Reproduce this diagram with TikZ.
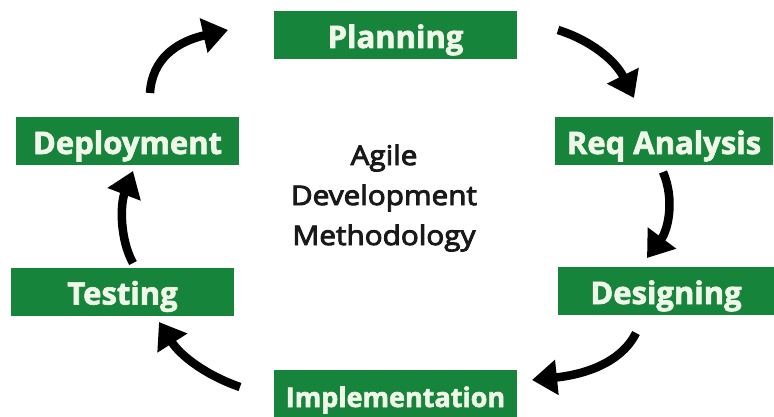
\documentclass[tikz,border=0pt]{standalone}
\usepackage{fontspec}
\setmainfont{Open Sans}
\newfontfamily\boxfont{Open Sans}[FakeBold=2.2]
\newfontfamily\midfont{Open Sans}[FakeBold=3.5,FakeStretch=1.1]
\usetikzlibrary{arrows.meta}
\definecolor{boxgreen}{RGB}{22,132,58}
\definecolor{boxtext}{RGB}{240,246,232}
\tikzset{
  stagebox/.style={fill=boxgreen, text=boxtext, inner sep=0pt, minimum height=48pt,
    text height=30pt, text depth=4pt,
    font=\boxfont\bfseries\fontsize{31}{34}\selectfont},
  cyclearrow/.style={line width=8.5pt, -{Triangle[width=34pt,length=25pt]}, black}
}
\begin{document}
\begin{tikzpicture}[x=1pt,y=-1pt]
\useasboundingbox (0,0) rectangle (774,417);
\node[stagebox, minimum width=243pt] (plan) at (395.5,35) {Planning};
\node[stagebox, minimum width=218pt] (req) at (664,141) {Req Analysis};
\node[stagebox, minimum width=216pt] (des) at (666,291) {Designing};
\node[stagebox, minimum width=243pt, font=\boxfont\bfseries\fontsize{27}{30}\selectfont] (impl) at (395.5,394) {Implementation};
\node[stagebox, minimum width=223pt] (test) at (122.5,291.5) {Testing};
\node[stagebox, minimum width=223pt] (dep) at (127.5,141) {Deployment};
\node[align=center, text=black!90, font=\midfont\fontsize{27}{40}\selectfont] (title) at (384,198) {Agile\\Development\\Methodology};
% arrow end points
\coordinate (a1s) at (150,93);  \coordinate (a1e) at (228,30);
\coordinate (a2s) at (558,30);  \coordinate (a2e) at (634,98);
\coordinate (a3s) at (663,172); \coordinate (a3e) at (647,258);
\coordinate (a4s) at (636,333); \coordinate (a4e) at (532,380);
\coordinate (a5s) at (240,387); \coordinate (a5e) at (159,322);
\coordinate (a6s) at (133,263); \coordinate (a6e) at (133,171);
\draw[cyclearrow] (a1s) .. controls (152,60) and (175,42) .. (a1e);
\draw[cyclearrow] (a2s) .. controls (590,40) and (615,60) .. (a2e);
\draw[cyclearrow] (a3s) .. controls (675,200) and (668,230) .. (a3e);
\draw[cyclearrow] (a4s) .. controls (620,365) and (580,375) .. (a4e);
\draw[cyclearrow] (a5s) .. controls (205,375) and (180,355) .. (a5e);
\draw[cyclearrow] (a6s) .. controls (120,240) and (120,205) .. (a6e);
\end{tikzpicture}
\end{document}
